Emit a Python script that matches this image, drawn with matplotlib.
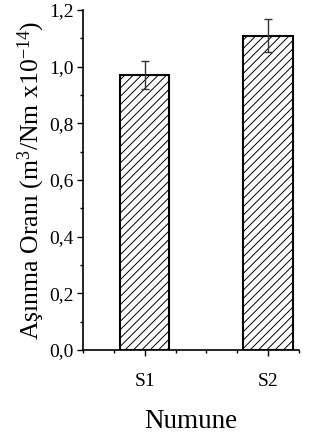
import matplotlib
matplotlib.use("Agg")
import matplotlib.pyplot as plt
from matplotlib.ticker import MultipleLocator, FuncFormatter

categories = ["S1", "S2"]
values = [0.97, 1.11]
errors = [0.05, 0.057]

plt.rcParams['font.family'] = ['Liberation Serif', 'DejaVu Serif']
plt.rcParams['mathtext.fontset'] = 'custom'
plt.rcParams['mathtext.rm'] = 'Liberation Serif'
plt.rcParams['mathtext.it'] = 'Liberation Serif:italic'
plt.rcParams['mathtext.bf'] = 'Liberation Serif:bold'
plt.rcParams['hatch.linewidth'] = 0.7

fig = plt.figure(figsize=(3.29, 4.36), dpi=100)
ax = fig.add_axes([0.2523, 0.1972, 0.6565, 0.7798])

x = [1, 2]
ax.bar(x, values, width=0.4, facecolor='white', edgecolor='black',
       linewidth=1.5, hatch='////', zorder=2)
ax.errorbar(x, values, yerr=errors, fmt='none', ecolor='#333333',
            elinewidth=1.0, capsize=3, capthick=1.0, zorder=3)

ax.set_xlim(0.5, 2.25)
ax.set_ylim(0, 1.2)
ax.set_xticks(x)
ax.set_xticklabels(categories)
ax.xaxis.set_minor_locator(MultipleLocator(0.25))
ax.yaxis.set_major_locator(MultipleLocator(0.2))
ax.yaxis.set_minor_locator(MultipleLocator(0.1))
ax.yaxis.set_major_formatter(FuncFormatter(lambda v, p: f"{v:.1f}".replace('.', ',')))

for s in ['top', 'right']:
    ax.spines[s].set_visible(False)
for s in ['left', 'bottom']:
    ax.spines[s].set_linewidth(1.2)

ax.tick_params(which='major', direction='out', length=4.5, width=1.0, labelsize=14)
ax.tick_params(axis='y', which='major', pad=2)
ax.tick_params(axis='x', which='major', pad=12)
ax.tick_params(which='minor', direction='out', length=2.5, width=1.0)

ax.set_xlabel("Numune", fontsize=19.5, labelpad=14)
ax.set_ylabel("Aşınma Oranı (m$^3$/Nm x10$^{-14}$)", fontsize=18.5, labelpad=2)

fig.savefig("out.png", dpi=100)
